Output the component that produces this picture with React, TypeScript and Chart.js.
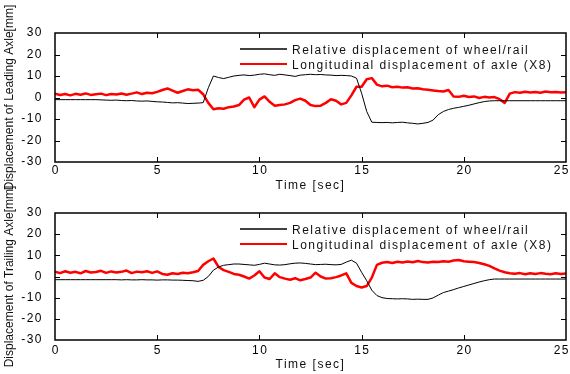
import React, { useEffect, useRef } from 'react';
import { Chart, registerables } from 'chart.js';

Chart.register(...registerables);

// ---- data ----
const timeSec: number[] = Array.from({ length: 101 }, (_, i) => i * 0.25);

const leadingRelative = [
  -1, -1, -1, -1, -1, -1, -1, -1, -1, -1.1, -1.2, -1.3, -1.2, -1.4, -1.5, -1.4, -1.6,
  -1.7, -1.6, -1.8, -2.0, -2.1, -2.3, -2.5, -2.4, -2.6, -2.8, -2.7, -2.6, -2.4,
  4.5, 10, 9.3, 8.8, 9.4, 10, 10.3, 10.5, 10.2, 10.4, 10.8, 11, 10.6, 10.3, 10.8, 10.5,
  10.2, 9.8, 10.4, 10.6, 10.8, 10.6, 10.7, 10.5, 10.4, 10.2, 10.3, 10.2, 10, 9,
  2, -6.5, -11.5, -11.6, -11.7, -11.6, -11.8, -11.6, -11.5, -11.8, -12, -12.3, -12, -11.6,
  -10.5, -8, -6.5, -5.6, -5, -4.6, -4.1, -3.6, -3, -2.4, -1.9, -1.6,
  -1.5, -1.5, -1.5, -1.5, -1.5, -1.5, -1.5, -1.5, -1.5, -1.5, -1.5, -1.5, -1.5, -1.5, -1.5,
];

const leadingLongitudinal = [
  1.8, 1.2, 1.6, 1.0, 1.7, 1.3, 1.9, 1.2, 1.5, 1.8, 1.1, 1.6, 1.4, 1.9, 1.3,
  1.8, 2.4, 1.6, 2.2, 2.0, 2.6, 3.5, 4.2, 3.2, 2.2, 3.0, 3.8, 3.4, 3.6, 1.5,
  -2.5, -5.5, -5, -5.2, -4.5, -4.2, -3.5, -1, 0, -4.5, -1, 0.5, -2, -3.8, -3.5,
  -3.2, -2.5, -1.2, -0.5, -1.5, -3.5, -4, -3.8, -2.5, -0.8, -1.5, -3.2, -2.5, 1, 5,
  5, 8.5, 9, 6, 5.2, 5.5, 4.8, 5, 4.6, 4.8, 4.2, 4.3, 3.8, 3.6, 3.3, 3, 2.8, 3.5,
  0.5, 0.3, 0.8, 0.2, 0.5, -0.2, 0.3, 0, 0.2, -0.8, -2.5, 1.8,
  2.5, 2.2, 2.7, 2.3, 2.6, 2.2, 2.8, 2.4, 2.6, 2.3, 2.5,
];

const trailingRelative = [
  -1.5, -1.5, -1.5, -1.5, -1.5, -1.5, -1.5, -1.5, -1.5, -1.5, -1.5, -1.5,
  -1.5, -1.6, -1.5, -1.6, -1.6, -1.5, -1.6, -1.6, -1.7, -1.6, -1.6, -1.7, -1.7, -1.8, -1.9,
  -2, -2.3, -1.8, 0, 3, 4.5, 5.3, 5.6, 5.9, 5.9, 5.7, 5.5, 5.3, 5.7, 6.3, 5.9, 5.5,
  5.4, 5.6, 6, 6.3, 6.4, 6.2, 5.9, 5.6, 5.7, 5.8, 5.6, 5.5, 5.7, 6.8, 7.7, 6.3,
  2, -2, -6.5, -9, -10, -10.4, -10.5, -10.6, -10.5, -10.6, -10.8, -10.7, -10.8, -10.8,
  -10.1, -8.8, -7.6, -6.9, -6.2, -5.4, -4.7, -4, -3.3, -2.6, -2, -1.5,
  -1.2, -1.2, -1.2, -1.2, -1.2, -1.2, -1.2, -1.2, -1.2, -1.2, -1.2, -1.2, -1.2, -1.2, -1.2,
];

const trailingLongitudinal = [
  2.3, 1.6, 2.5, 1.8, 2.2, 1.5, 2.6, 1.9, 2.1, 2.7, 1.7, 2.4, 1.9, 2.2, 2.8, 1.6, 2.3, 2.0, 2.5, 1.7, 2.4,
  1.2, 0.8, 1.5, 1.2, 1.8, 1.5, 2.0, 2.6, 5.5, 7.2, 8.5, 4.5, 3, 2.2, 1.2, 0.8, 0, -1, 0.5,
  2.5, -0.5, -1.2, 1.5, -0.3, -1, -1.5, -0.8, -1.8, -1.2, -0.5, 1.8, 0, -1, -0.8, -0.3, 0.5, 1.5,
  -3, -4.5, -5.2, -4.5, -0.5, 5.5, 6.5, 6.8, 6.4, 7.0, 6.6, 7.1, 6.7, 7.3, 6.8, 6.6, 7.0, 6.8,
  7.2, 7.0, 7.6, 7.8, 7.2, 7.0, 6.8, 6.4, 5.8, 5, 3.8, 2.8, 2, 1.5,
  1.3, 1.6, 1.1, 1.5, 1.2, 1.6, 1.3, 1.1, 1.5, 1.2, 1.4,
];

const seriesLabels = ['Relative displacement of wheel/rail', 'Longitudinal displacement of axle (X8)'];
const seriesColors = ['#000000', '#ff0000'];
const xTicks = [0, 5, 10, 15, 20, 25];
const yTicks = [-30, -20, -10, 0, 10, 20, 30];
const yTitles = ['Displacement of Leading Axle[mm]', 'Displacement of Trailing Axle[mm]'];
const xTitle = 'Time [sec]';

const FONT = "'Liberation Sans', Arial, sans-serif";

const decorPlugin = {
  id: 'decor',
  beforeDraw(chart: any) {
    chart.ctx.letterSpacing = '1.5px';
  },
  afterDraw(chart: any, _args: any, opts: any) {
    const { ctx, chartArea: a, scales } = chart;
    ctx.save();
    // frame
    ctx.strokeStyle = '#000';
    ctx.lineWidth = 1.5;
    ctx.strokeRect(a.left, a.top, a.right - a.left, a.bottom - a.top);
    // inward ticks
    ctx.lineWidth = 1;
    const tl = 5;
    ctx.beginPath();
    xTicks.slice(1, -1).forEach((v) => {
      const px = Math.round(scales.x.getPixelForValue(v)) + 0.5;
      ctx.moveTo(px, a.top); ctx.lineTo(px, a.top + tl);
      ctx.moveTo(px, a.bottom); ctx.lineTo(px, a.bottom - tl);
    });
    yTicks.slice(1, -1).forEach((v) => {
      const py = Math.round(scales.y.getPixelForValue(v)) + 0.5;
      ctx.moveTo(a.left, py); ctx.lineTo(a.left + tl, py);
      ctx.moveTo(a.right, py); ctx.lineTo(a.right - tl, py);
    });
    ctx.stroke();

    // x tick labels
    ctx.font = `12px ${FONT}`;
    ctx.fillStyle = '#000';
    ctx.letterSpacing = '1.5px';
    ctx.textAlign = 'left';
    ctx.textBaseline = 'middle';
    xTicks.forEach((v) => {
      const px = scales.x.getPixelForValue(v);
      const t = String(v);
      const w = ctx.measureText(t).width;
      const x = Math.min(px - w / 2 + 0.75, chart.width - w);
      ctx.fillText(t, x, a.bottom + opts.tickOffset);
    });

    // legend
    seriesLabels.forEach((label, i) => {
      const y = a.top + 16 + i * 15;
      ctx.strokeStyle = seriesColors[i];
      ctx.lineWidth = i === 0 ? 1.5 : 2;
      ctx.beginPath();
      ctx.moveTo(a.left + 185, y);
      ctx.lineTo(a.left + 232, y);
      ctx.stroke();
      ctx.fillStyle = '#111';
      ctx.textAlign = 'left';
      ctx.textBaseline = 'middle';
      ctx.fillText(label, a.left + 237, y + 1.5);
    });

    // y title
    ctx.letterSpacing = '0px';
    ctx.translate(10, (a.top + a.bottom) / 2);
    ctx.rotate(-Math.PI / 2);
    ctx.textAlign = 'center';
    ctx.textBaseline = 'middle';
    ctx.fillStyle = '#111';
    ctx.fillText(opts.yTitle, 0, 0);
    ctx.restore();
  },
};

function makeChart(
  canvas: HTMLCanvasElement,
  relative: number[],
  longitudinal: number[],
  yTitle: string,
  xAxisHeight: number,
  tickOffset: number,
) {
  const toPts = (vals: number[]) => vals.map((y, i) => ({ x: timeSec[i], y }));
  return new Chart(canvas, {
    type: 'line',
    data: {
      datasets: [
        {
          label: seriesLabels[0],
          data: toPts(relative),
          borderColor: seriesColors[0],
          borderWidth: 1,
          pointRadius: 0,
          tension: 0,
          order: 0,
        },
        {
          label: seriesLabels[1],
          data: toPts(longitudinal),
          borderColor: seriesColors[1],
          borderWidth: 2.5,
          pointRadius: 0,
          tension: 0,
          borderJoinStyle: 'round',
          order: 1,
        },
      ],
    },
    options: {
      responsive: false,
      animation: false,
      layout: { padding: { left: 0, right: 4, top: 33, bottom: 0 } },
      plugins: {
        legend: { display: false },
        tooltip: { enabled: false },
        decor: { yTitle, tickOffset },
      } as any,
      scales: {
        x: {
          type: 'linear',
          min: 0,
          max: 25,
          grid: { display: false },
          border: { display: false },
          ticks: { display: false, stepSize: 5 },
          title: {
            display: true,
            text: xTitle,
            color: '#111',
            font: { family: FONT, size: 12 },
            padding: { top: 0, bottom: 2 },
          },
          afterFit: (s: any) => {
            s.height = xAxisHeight;
            s.paddingLeft = 0;
            s.paddingRight = 0;
          },
        },
        y: {
          min: -30,
          max: 30,
          grid: { display: false },
          border: { display: false },
          ticks: {
            stepSize: 10,
            padding: 4,
            color: '#000',
            font: { family: FONT, size: 12 },
          },
          afterFit: (s: any) => {
            s.width = 55;
            s.paddingTop = 0;
            s.paddingBottom = 0;
          },
        },
      },
    },
    plugins: [decorPlugin],
  });
}

export default function App() {
  const topRef = useRef<HTMLCanvasElement>(null);
  const botRef = useRef<HTMLCanvasElement>(null);

  useEffect(() => {
    const c1 = makeChart(topRef.current!, leadingRelative, leadingLongitudinal, yTitles[0], 33, 9);
    const c2 = makeChart(botRef.current!, trailingRelative, trailingLongitudinal, yTitles[1], 34, 10.5);
    return () => {
      c1.destroy();
      c2.destroy();
    };
  }, []);

  return (
    <div
      style={{
        position: 'absolute',
        left: 0,
        top: 0,
        width: 570,
        height: 374,
        background: '#fff',
        overflow: 'hidden',
      }}
    >
      <canvas ref={topRef} width={570} height={195} style={{ position: 'absolute', left: 0, top: 0 }} />
      <canvas ref={botRef} width={570} height={194} style={{ position: 'absolute', left: 0, top: 180 }} />
    </div>
  );
}
